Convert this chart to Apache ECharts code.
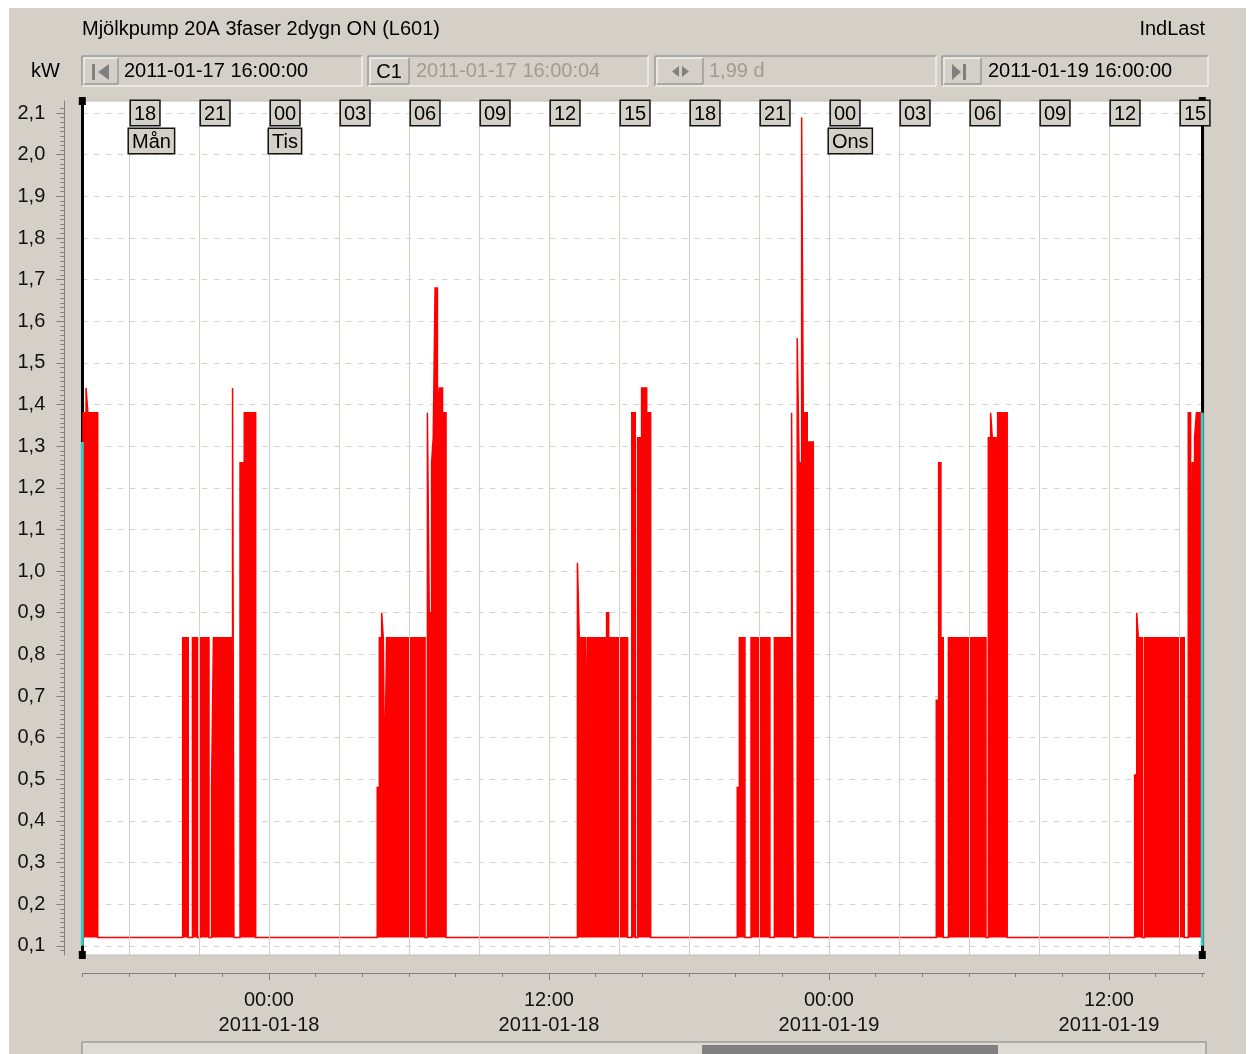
<!DOCTYPE html>
<html>
<head>
<meta charset="utf-8">
<script src="https://cdn.jsdelivr.net/npm/echarts@6/dist/echarts.min.js"></script>
<style>
  html, body { margin: 0; padding: 0; background: #fff; }
  #chart { width: 1250px; height: 1054px; }
</style>
</head>
<body>
<div id="chart"></div>
<script>
// time axis is in hours counted from 2011-01-17 00:00
const START_HOUR = 16;

// step changes: hours after 2011-01-17 16:00, and the kW value held until the next change
const stepHours = [
  0.00, 0.16, 0.24, 0.66,
  4.30, 4.54, 4.72, 4.94, 5.04, 5.43, 5.54, 5.62, 6.44, 6.50, 6.76, 6.94, 7.26, 7.33, 7.43,
  12.64, 12.73, 12.83, 12.90, 12.96, 13.04, 14.69, 14.79, 14.87, 14.97, 15.04, 15.12, 15.22, 15.30, 15.44, 15.59,
  21.22, 21.30, 21.56, 21.64, 22.47, 22.56, 23.37, 23.55, 23.70, 23.80, 23.97, 24.19, 24.36,
  28.07, 28.16, 28.40, 28.66, 29.02, 29.07, 29.47, 29.66, 30.40, 30.47, 30.64, 30.72, 30.83, 30.90, 31.07, 31.33,
  36.60, 36.70, 36.80, 36.90, 37.12, 38.73, 38.83, 38.93, 39.00, 39.23, 39.40, 39.47, 39.64,
  45.10, 45.19, 45.26, 45.43, 45.52, 47.23, 47.40, 47.50, 47.57, 47.67, 47.75, 48.00
];
const stepKw = [
  1.38, 1.44, 1.38, 0.12,
  0.84, 0.12, 0.84, 0.12, 0.84, 0.12, 0.48, 0.84, 1.44, 0.12, 1.26, 1.38, 1.31, 1.38, 0.12,
  0.48, 0.84, 0.90, 0.84, 0.48, 0.84, 0.12, 1.38, 0.90, 1.26, 1.32, 1.68, 1.38, 1.44, 1.38, 0.12,
  1.02, 0.84, 0.48, 0.84, 0.90, 0.84, 0.12, 1.38, 0.12, 1.32, 1.44, 1.38, 0.12,
  0.48, 0.84, 0.12, 0.84, 0.12, 0.84, 0.12, 0.84, 1.38, 0.12, 1.56, 1.26, 2.09, 1.38, 1.31, 0.12,
  0.69, 1.26, 0.84, 0.12, 0.84, 0.12, 1.32, 1.38, 1.32, 1.38, 1.32, 1.38, 0.12,
  0.51, 0.90, 0.84, 0.12, 0.84, 0.12, 1.38, 0.69, 1.26, 1.32, 1.38, 1.38
];

// cursor levels (cyan) at start and end
const cursorHours = [16, 64];
const cursorKw = [1.31, 1.38];
const BASE_KW = 0.12;

const yTicks = [0.1, 0.2, 0.3, 0.4, 0.5, 0.6, 0.7, 0.8, 0.9, 1.0, 1.1,
  1.2, 1.3, 1.4, 1.5, 1.6, 1.7, 1.8, 1.9, 2.0, 2.1];

const hourTicks = [18, 21, 24, 27, 30, 33, 36, 39, 42, 45, 48, 51, 54, 57, 60, 63];
const hourLabels = ['18', '21', '00', '03', '06', '09', '12', '15', '18', '21', '00', '03', '06', '09', '12', '15'];
const dayTicks = [18, 24, 48];
const dayNames = ['Mån', 'Tis', 'Ons'];

const rulerTicks = [16, 18, 20, 22, 24, 26, 28, 30, 32, 34, 36, 38, 40, 42, 44, 46, 48, 50, 52, 54, 56, 58, 60, 62, 64];
const dateTicks = [24, 36, 48, 60];
const dateLabels = ['00:00\n2011-01-18', '12:00\n2011-01-18', '00:00\n2011-01-19', '12:00\n2011-01-19'];

const FONT = '"Liberation Sans", Arial, sans-serif';
const GRAY = '#d4d0c8';
const DARK = '#808080';
const X_MAX = 64.1;
const Y_MIN = 0.078;
const Y_MAX = 2.129;

const minorTicks = [];
for (let k = -1; k <= 181; k++) minorTicks.push(+(0.1 + k * 0.1 / 9).toFixed(4));

// hold each value until the next change: two points per change (old level, new level)
const seriesData = [];
stepHours.forEach((h, i) => {
  if (i > 0) seriesData.push([START_HOUR + h, stepKw[i - 1]]);
  seriesData.push([START_HOUR + h, stepKw[i]]);
});

// window-like header fields
function field(x, y, w, h) {
  return [
    { type: 'rect', shape: { x, y, width: w, height: h }, style: { fill: GRAY } },
    { type: 'polyline', shape: { points: [[x, y + h], [x, y], [x + w, y]] }, style: { stroke: DARK, lineWidth: 1, fill: null } },
    { type: 'polyline', shape: { points: [[x + w, y], [x + w, y + h], [x, y + h]] }, style: { stroke: '#fff', lineWidth: 1, fill: null } }
  ];
}
function button(x, y, w, h) {
  return [
    { type: 'polyline', shape: { points: [[x, y + h], [x, y], [x + w, y]] }, style: { stroke: '#fff', lineWidth: 1, fill: null } },
    { type: 'polyline', shape: { points: [[x + w, y], [x + w, y + h], [x, y + h]] }, style: { stroke: DARK, lineWidth: 1, fill: null } }
  ];
}
function text(t, x, y, color, align) {
  return {
    type: 'text', x, y,
    style: { text: t, font: '20px ' + FONT, fill: color || '#000', textAlign: align || 'left', textVerticalAlign: 'middle' }
  };
}

const graphics = [
  { type: 'rect', shape: { x: 9, y: 8, width: 1237, height: 1046 }, style: { fill: GRAY }, z: -10 },
  text('Mjölkpump 20A 3faser 2dygn ON (L601)', 82, 29),
  text('IndLast', 1205, 29, '#000', 'right'),
  text('kW', 31, 71),
  ...field(82, 56, 280, 30), ...button(84, 58, 34, 26),
  { type: 'rect', shape: { x: 92, y: 64, width: 3, height: 16 }, style: { fill: DARK } },
  { type: 'polygon', shape: { points: [[109, 64], [109, 80], [98, 72]] }, style: { fill: DARK } },
  text('2011-01-17 16:00:00', 124, 71),
  ...field(368, 56, 280, 30), ...button(370, 58, 39, 26),
  text('C1', 389, 72, '#000', 'center'),
  text('2011-01-17 16:00:04', 416, 71, '#a09c94'),
  ...field(655, 56, 281, 30), ...button(657, 58, 46, 26),
  { type: 'polygon', shape: { points: [[679, 66], [679, 77], [672, 71.5]] }, style: { fill: DARK } },
  { type: 'polygon', shape: { points: [[682, 66], [682, 77], [689, 71.5]] }, style: { fill: DARK } },
  text('1,99 d', 709, 71, '#a09c94'),
  ...field(942, 56, 266, 30), ...button(944, 58, 37, 26),
  { type: 'polygon', shape: { points: [[952, 64], [952, 80], [961, 72]] }, style: { fill: DARK } },
  { type: 'rect', shape: { x: 963, y: 64, width: 3, height: 16 }, style: { fill: DARK } },
  text('2011-01-19 16:00:00', 988, 71),
  // scrollbar
  { type: 'rect', shape: { x: 82, y: 1042, width: 1124, height: 14 }, style: { fill: '#dedbd5', stroke: DARK, lineWidth: 1 } },
  { type: 'rect', shape: { x: 702, y: 1045, width: 296, height: 10 }, style: { fill: DARK } }
];

const boxStyle = {
  fontSize: 20, fontFamily: FONT, color: '#000', lineHeight: 20,
  backgroundColor: GRAY, borderColor: '#111', borderWidth: 1.5, padding: [3, 3, 1, 3]
};

const chart = echarts.init(document.getElementById('chart'));

const option = {
  animation: false,
  textStyle: { fontFamily: FONT },
  graphic: graphics,
  grid: {
    left: 82.3, right: 45.4, top: 101, bottom: 99,
    show: true, backgroundColor: '#fff', borderColor: '#c4c0b8', borderWidth: 1
  },
  xAxis: [
    {
      // ruler with 2h ticks
      type: 'value', position: 'bottom', min: START_HOUR, max: X_MAX, offset: 18,
      axisLine: { show: true, lineStyle: { color: DARK, width: 1 } },
      axisTick: { show: true, length: 4, customValues: rulerTicks, lineStyle: { color: DARK } },
      axisLabel: { show: false },
      splitLine: { show: false }
    },
    {
      // 12h ticks with date labels
      type: 'value', position: 'bottom', min: START_HOUR, max: X_MAX, offset: 18,
      axisLine: { show: false },
      axisTick: { show: true, length: 7, customValues: dateTicks, lineStyle: { color: DARK } },
      axisLabel: {
        show: true, customValues: dateTicks, margin: 15,
        color: '#111', fontSize: 20, lineHeight: 25, fontFamily: FONT,
        formatter: (v) => dateLabels[dateTicks.indexOf(v)] || ''
      },
      splitLine: { show: false }
    },
    {
      // hour boxes at top + vertical grid lines drawn over the data
      type: 'value', position: 'top', min: START_HOUR, max: X_MAX, z: 5,
      axisLine: { show: false },
      axisTick: { show: false, customValues: hourTicks },
      splitLine: { show: true, lineStyle: { color: GRAY, width: 1 } },
      axisLabel: {
        show: true, inside: true, margin: 2, customValues: hourTicks,
        align: 'left', verticalAlign: 'top', padding: [0, 0, 0, 2],
        formatter: (v) => '{h|' + hourLabels[hourTicks.indexOf(v)] + '}',
        rich: { h: boxStyle }
      }
    },
    {
      // weekday boxes under the hour boxes
      type: 'value', position: 'top', min: START_HOUR, max: X_MAX, z: 5,
      axisLine: { show: false },
      axisTick: { show: false, customValues: dayTicks },
      splitLine: { show: false },
      axisLabel: {
        show: true, inside: true, margin: 30, customValues: dayTicks,
        align: 'left', verticalAlign: 'top',
        formatter: (v) => '{d|' + dayNames[dayTicks.indexOf(v)] + '}',
        rich: { d: boxStyle }
      }
    }
  ],
  yAxis: [
    {
      type: 'value', position: 'left', min: Y_MIN, max: Y_MAX, offset: 18,
      axisLine: { show: true, lineStyle: { color: DARK } },
      axisTick: { show: true, length: 8, customValues: yTicks, lineStyle: { color: DARK } },
      axisLabel: {
        show: true, customValues: yTicks, margin: 19, color: '#111', fontSize: 20, fontFamily: FONT,
        formatter: (v) => v.toFixed(1).replace('.', ',')
      },
      splitLine: { show: true, lineStyle: { color: GRAY, width: 1, type: [5, 7] } }
    },
    {
      type: 'value', position: 'left', min: Y_MIN, max: Y_MAX, offset: 18,
      axisLine: { show: false },
      axisTick: { show: true, length: 4, customValues: minorTicks, lineStyle: { color: DARK } },
      axisLabel: { show: false },
      splitLine: { show: false }
    }
  ],
  series: [
    {
      name: 'kW', type: 'line', xAxisIndex: 0, yAxisIndex: 0,
      showSymbol: false, symbol: 'none',
      data: seriesData,
      lineStyle: { color: '#ff0000', width: 1.5, join: 'miter' },
      areaStyle: { color: '#ff0000', opacity: 1, origin: BASE_KW },
      markLine: {
        silent: true, z: 2, symbol: ['rect', 'rect'], symbolSize: [7, 8],
        label: { show: false },
        lineStyle: { color: '#000', width: 3, type: 'solid' },
        data: cursorHours.map((h) => ({ xAxis: h }))
      },
      z: 2
    },
    ...cursorHours.map((h, i) => ({
      type: 'line', xAxisIndex: 0, yAxisIndex: 0, symbol: 'none', z: 6,
      data: [[h, 0.1], [h, cursorKw[i]]],
      lineStyle: { color: '#3cc8c8', width: 3 }
    }))
  ]
};

chart.setOption(option);
</script>
</body>
</html>
